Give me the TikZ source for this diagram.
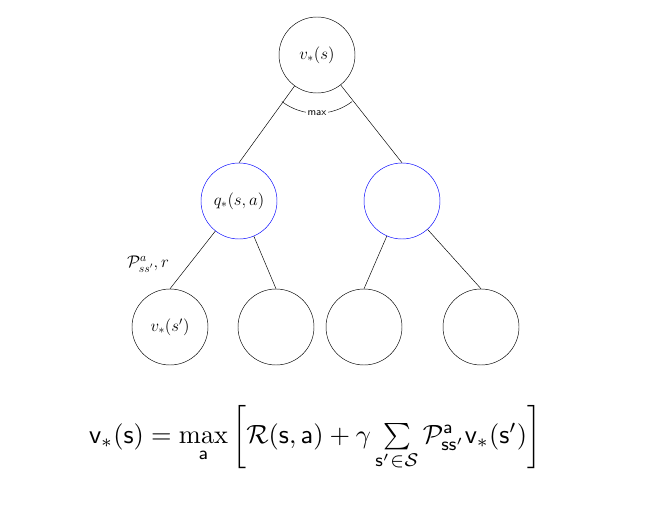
\documentclass[tikz,border=0pt]{standalone}
\usepackage{amsmath}
\begin{document}
\begin{tikzpicture}[x=0.03cm,y=-0.03cm,
  st/.style={circle,draw,minimum size=2.28cm,inner sep=0pt,font=\Large},
  bl/.style={st,draw=blue}]
\useasboundingbox (0,0) rectangle (652,514);
\node[st] (r) at (317,55) {$v_*(s)$};
\node[bl] (q1) at (239,201) {$q_*(s,a)$};
\node[bl] (q2) at (402,201) {};
\node[st] (l1) at (170,327) {$v_*(s')$};
\node[st] (l2) at (276,327) {};
\node[st] (l3) at (364,327) {};
\node[st] (l4) at (481,327) {};
\draw (r) -- (q1.north);
\draw (r) -- (q2.north);
\draw (q1) -- (l1.north);
\draw (q1) -- (l2.north);
\draw (q2) -- (l3.north);
\draw (q2) -- (l4.north);
\coordinate (c) at (317,55);
\draw (c) ++(-127:1.75cm) arc[start angle=-127,end angle=-53,radius=1.75cm];
\node[fill=white,inner sep=1pt,font=\sffamily\small] (mx) at (317,113) {max};
\node[font=\Large,fill=white,inner sep=1pt] (pl) at (148,264) {$\mathcal{P}^a_{ss'},r$};
\node[scale=2.25] (eq) at (315,438) {$\mathsf{v}_*(\mathsf{s}) = \max\limits_{\mathsf{a}}\left[\mathcal{R}(\mathsf{s},\mathsf{a})+\gamma\sum\limits_{\mathsf{s}'\in\mathcal{S}}\mathcal{P}^{\mathsf{a}}_{\mathsf{ss}'}\mathsf{v}_*(\mathsf{s}')\right]$};
\end{tikzpicture}
\end{document}
